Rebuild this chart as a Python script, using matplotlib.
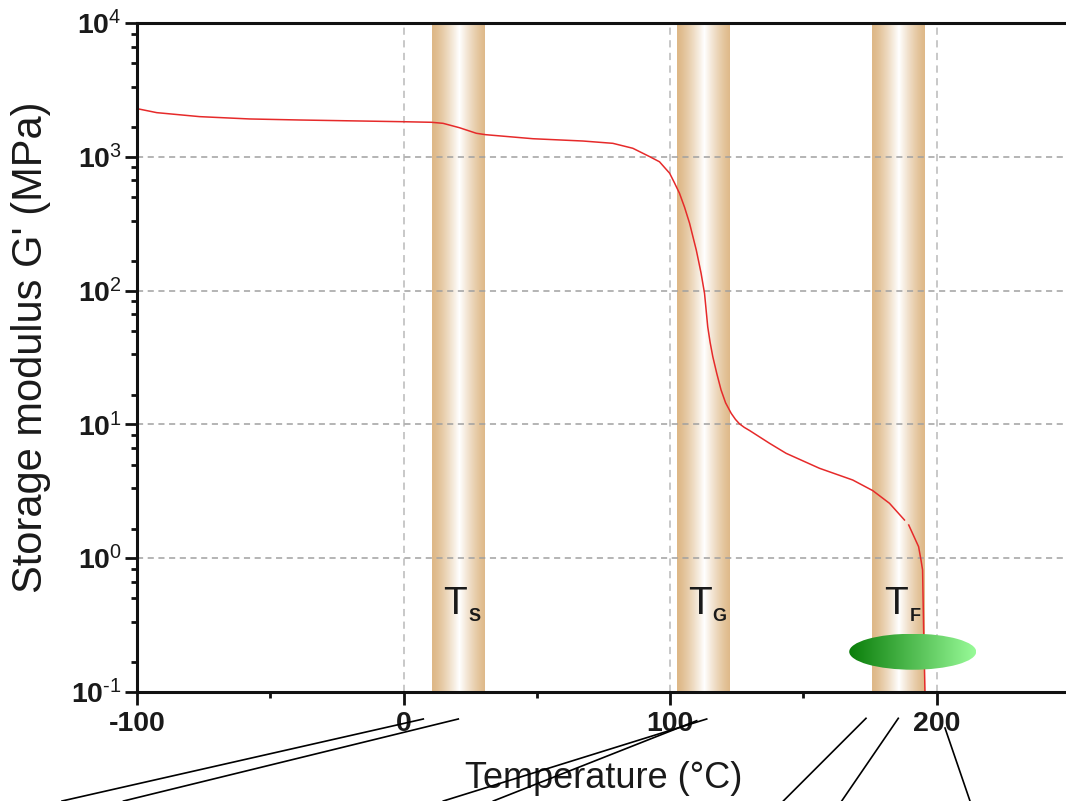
import numpy as np
import matplotlib
matplotlib.use('Agg')
import matplotlib.pyplot as plt
from matplotlib import transforms
from matplotlib.patches import Ellipse
from matplotlib.lines import Line2D
from matplotlib.ticker import FixedLocator, FuncFormatter
from matplotlib.colors import LinearSegmentedColormap

plt.rcParams['font.family'] = ['Liberation Sans', 'DejaVu Sans']
plt.rcParams['mathtext.fontset'] = 'custom'
plt.rcParams['mathtext.rm'] = 'Liberation Sans'
plt.rcParams['mathtext.bf'] = 'Liberation Sans:bold'
plt.rcParams['mathtext.it'] = 'Liberation Sans:italic'

# ---- data ----
temperature = [-100, -92.6, -76.5, -57.8, -39.0, 0.0, 10.5, 14.8, 21.0, 27.3, 30.8,
               48.5, 67.3, 78.5, 86.0, 92.3, 96.0, 99.8, 101.6, 103.5, 105.4,
               107.3, 108.5, 109.8, 110.7, 111.6, 112.9, 114.1, 115.0, 116.0,
               117.5, 119.1, 120.8, 122.9, 124.5, 126.0, 127.8, 129.8,
               137.3, 143.5, 156.0, 168.5, 176.0, 182.3, 187.9, np.nan,
               189.5, 193.2, 194.1, 194.7, 195.1, 195.6]
modulus = [2291, 2138, 1996, 1918, 1884, 1829, 1811, 1779, 1649, 1499, 1463,
           1365, 1312, 1261, 1158, 1003, 918, 754, 640, 534, 420,
           318, 255, 201, 165, 135, 95.4, 53.7, 41.0, 32.1,
           24.0, 18.1, 14.5, 12.1, 10.9, 10.1, 9.5, 9.0,
           7.22, 6.08, 4.70, 3.84, 3.20, 2.57, 1.93, np.nan,
           1.77, 1.22, 0.97, 0.817, 0.290, 0.100]

transition_names = ['S', 'G', 'F']
transition_left = [10.5, 102.4, 175.9]
transition_right = [30.7, 122.6, 195.8]

flow_T = 191.0
flow_G = 0.2

x_major = [-100, 0, 100, 200]
x_minor = [-50, 50, 150]
y_decades = [-1, 0, 1, 2, 3, 4]

# ---- figure ----
W, H = 1066, 801
fig = plt.figure(figsize=(W / 100, H / 100), dpi=100)
ax = fig.add_axes([137 / W, 1 - 692 / H, 933 / W, 669 / H])
ax.set_yscale('log')
ax.set_xlim(-100, 250)
ax.set_ylim(10.0 ** y_decades[0], 10.0 ** y_decades[-1])

# gradient columns for T_S, T_G, T_F
tan_cmap = LinearSegmentedColormap.from_list('tan', ['#DEB887', '#FFFFFF'])
f = np.linspace(0, 1, 256)
profile = (1 - np.abs(2 * f - 1)) ** 1.3
blend = transforms.blended_transform_factory(ax.transData, ax.transAxes)
for l, r in zip(transition_left, transition_right):
    ax.imshow(profile[np.newaxis, :], extent=[l, r, 0, 1], transform=blend,
              cmap=tan_cmap, vmin=0, vmax=1, aspect='auto',
              interpolation='bilinear', zorder=0.5)

# curve
ax.plot(temperature, modulus, color='#e62a2a', lw=1.1, zorder=2)

# green flow marker
cx, cy = ax.transAxes.inverted().transform(ax.transData.transform((flow_T, flow_G)))
ew, eh = 127 / 933, 36 / 669
green_cmap = LinearSegmentedColormap.from_list('grn', ['#0a7d0a', '#98fb98'])
gim = ax.imshow(np.linspace(0, 1, 256)[np.newaxis, :],
                extent=[cx - ew / 2, cx + ew / 2, cy - eh / 2, cy + eh / 2],
                transform=ax.transAxes, cmap=green_cmap, aspect='auto',
                interpolation='bilinear', zorder=3)
ell = Ellipse((cx, cy), ew, eh, transform=ax.transAxes)
gim.set_clip_path(ell)
ax.set_xlim(-100, 250)
ax.set_ylim(10.0 ** y_decades[0], 10.0 ** y_decades[-1])

# transition labels
for name, l, r in zip(transition_names, transition_left, transition_right):
    c = (l + r) / 2
    ax.annotate('T', xy=(c, 0.383), xytext=(-2.5, 0), textcoords='offset points',
                ha='center', va='baseline', fontsize=28, color='#1a1a1a', zorder=4)
    ax.annotate(name, xy=(c, 0.383), xytext=(11.5, -5.4), textcoords='offset points',
                ha='center', va='baseline', fontsize=13, fontweight='bold',
                color='#1a1a1a', zorder=4)

# axes styling
for side in ['left', 'bottom', 'top']:
    ax.spines[side].set_linewidth(2.2)
    ax.spines[side].set_color('#111111')
ax.spines['right'].set_visible(False)

ax.set_xticks(x_major, labels=[str(v) for v in x_major], fontweight='bold')
ax.xaxis.set_minor_locator(FixedLocator(x_minor))
ax.yaxis.set_major_locator(FixedLocator([10.0 ** d for d in y_decades]))
ax.yaxis.set_minor_locator(FixedLocator(
    [10.0 ** d * 10 * k / 6 for d in y_decades[:-1] for k in range(1, 6)]))
ax.yaxis.set_major_formatter(FuncFormatter(
    lambda v, p: r'$\mathbf{10}^{\text{%s}}$' % str(round(np.log10(v)))))
ax.tick_params(which='major', direction='out', length=9, width=2,
               labelsize=20.5, color='#111111', labelcolor='#1a1a1a')
ax.tick_params(which='minor', direction='out', length=4.5, width=2, color='#111111')
ax.tick_params(axis='x', which='major', pad=5)
ax.tick_params(axis='y', which='major', pad=2)

ax.xaxis.grid(True, which='major', color='#c4c4c4', linestyle=(0, (4, 3)), lw=1.3)
ax.yaxis.grid(True, which='major', color='#a0a0a0', linestyle=(0, (4, 3)), lw=1.1)

ax.set_xlabel('Temperature (°C)', fontsize=26, color='#1a1a1a')
ax.xaxis.set_label_coords(0.5, -0.103)
ax.set_ylabel("Storage modulus G' (MPa)", fontsize=30, color='#1a1a1a')
ax.yaxis.set_label_coords(-0.092, 0.515)

# pointer lines below the axis
pointers = [((62, 801), (423.3, 719)), ((123.5, 801), (458.3, 719)),
            ((443.3, 801), (706.7, 719)), ((493.3, 801), (696.7, 720.7)),
            ((783.3, 801), (866, 718.3)), ((841.7, 801), (898.3, 718.3)),
            ((945, 728), (970, 801))]
for (x0, y0), (x1, y1) in pointers:
    fig.add_artist(Line2D([x0 / W, x1 / W], [1 - y0 / H, 1 - y1 / H],
                          transform=fig.transFigure, color='black', lw=1.2))

fig.savefig('out.png', dpi=100)
